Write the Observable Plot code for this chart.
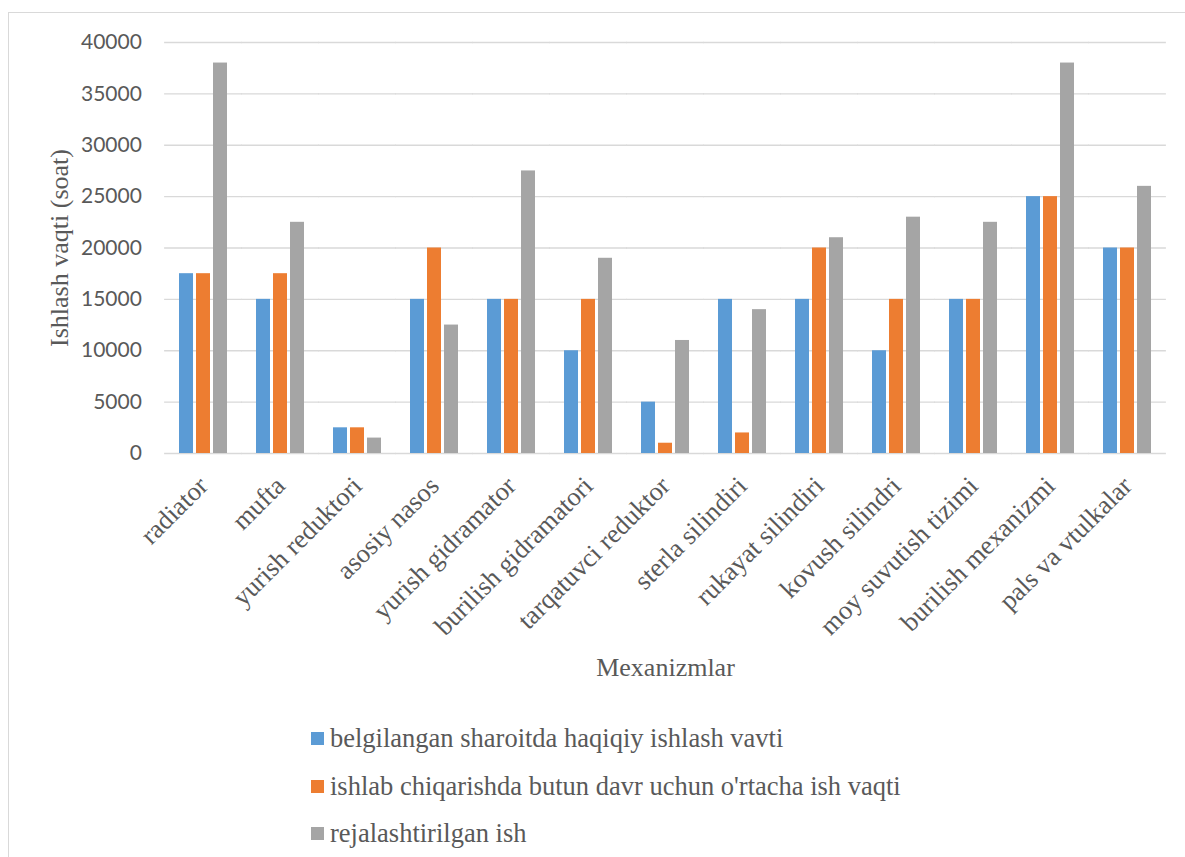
<!DOCTYPE html>
<html>
<head>
<meta charset="utf-8">
<script src="https://cdn.jsdelivr.net/npm/d3@7"></script>
<script src="https://cdn.jsdelivr.net/npm/@observablehq/plot@0.6"></script>
<style>
html, body { margin: 0; padding: 0; width: 1185px; height: 857px; overflow: hidden; background: #fff; }
#chart { position: absolute; left: 0; top: 0; }
#frame { position: absolute; left: 8px; top: 12px; width: 1250px; height: 900px; border: 1.5px solid #d9d9d9; box-sizing: border-box; pointer-events: none; }
#legend { position: absolute; left: 311px; top: 715px; font-family: "Liberation Serif", "Times New Roman", serif; font-size: 26.5px; color: #595959; }
#legend .row { height: 47.5px; display: flex; align-items: center; white-space: nowrap; }
#legend .sw { width: 13px; height: 13px; margin-right: 6px; flex: none; }
</style>
</head>
<body>
<div id="chart"></div>
<div id="legend"></div>
<div id="frame"></div>
<script>
const categories = [
  "radiator", "mufta", "yurish reduktori", "asosiy nasos", "yurish gidramator",
  "burilish gidramatori", "tarqatuvci reduktor", "sterla silindiri", "rukayat silindiri",
  "kovush silindri", "moy suvutish tizimi", "burilish mexanizmi", "pals va vtulkalar"
];
const seriesNames = [
  "belgilangan sharoitda haqiqiy ishlash vavti",
  "ishlab chiqarishda butun davr uchun o'rtacha ish vaqti",
  "rejalashtirilgan ish"
];
const actualHours  = [17500, 15000, 2500, 15000, 15000, 10000, 5000, 15000, 15000, 10000, 15000, 25000, 20000];
const averageHours = [17500, 17500, 2500, 20000, 15000, 15000, 1000, 2000, 20000, 15000, 15000, 25000, 20000];
const plannedHours = [38000, 22500, 1500, 12500, 27500, 19000, 11000, 14000, 21000, 23000, 22500, 38000, 26000];
const seriesColors = ["#5B9BD5", "#ED7D31", "#A5A5A5"];
const yTicks = [0, 5000, 10000, 15000, 20000, 25000, 30000, 35000, 40000];
const yTitle = "Ishlash vaqti (soat)";
const xTitle = "Mexanizmlar";

const seriesValues = [actualHours, averageHours, plannedHours];
const data = categories.flatMap((c, i) =>
  seriesNames.map((s, j) => ({category: c, series: s, value: seriesValues[j][i]}))
);

const serif = "Liberation Serif, Times New Roman, serif";
const textColor = "#595959";

const W = 1185, H = 700, mL = 164, mR = 18, mT = 42, mB = 247;
const fxPadInner = 0.373;
// half of the gap between two facet bands, so each facet's grid segment meets its neighbours
const halfGap = ((W - mL - mR) / categories.length) * fxPadInner / 2 + 0.5;

const chart = Plot.plot({
  width: W,
  height: H,
  marginLeft: mL,
  marginRight: mR,
  marginTop: mT,
  marginBottom: mB,
  style: {background: "transparent", color: textColor, overflow: "visible"},
  fx: {domain: categories, paddingInner: fxPadInner, paddingOuter: fxPadInner / 2, label: null},
  x: {domain: seriesNames, paddingInner: 0.19, paddingOuter: 0, axis: null},
  y: {domain: [0, 40000], label: null},
  color: {domain: seriesNames, range: seriesColors},
  marks: [
    Plot.ruleY(yTicks, {stroke: "#d9d9d9", strokeWidth: 1.3, insetLeft: -halfGap, insetRight: -halfGap}),
    Plot.barY(data, {fx: "category", x: "series", y: "value", fill: "series"}),
    Plot.axisY({
      ticks: yTicks, tickSize: 0, tickPadding: 37.6, tickFormat: d3.format("d"),
      fontFamily: "Lato", fontSize: 21, fill: textColor, label: null
    }),
    Plot.axisY({
      ticks: [], tickSize: 0, label: yTitle, labelAnchor: "center", labelArrow: "none",
      labelOffset: 129.6, fontFamily: serif, fontSize: 26, fill: textColor
    }),
    Plot.axisFx({
      anchor: "bottom", tickRotate: -45, tickSize: 0, tickPadding: 28, fontFamily: serif,
      fontSize: 26.5, fill: textColor, label: null
    }),
    Plot.axisFx({
      anchor: "bottom", ticks: [], tickSize: 0, label: xTitle, labelAnchor: "center", labelArrow: "none",
      labelOffset: 222.5, fontFamily: serif, fontSize: 26, fill: textColor
    })
  ]
});
document.getElementById("chart").appendChild(chart);

const legend = d3.select("#legend");
seriesNames.forEach((s, i) => {
  const row = legend.append("div").attr("class", "row");
  row.append("div").attr("class", "sw").style("background", seriesColors[i]);
  row.append("span").text(s);
});
</script>
</body>
</html>
